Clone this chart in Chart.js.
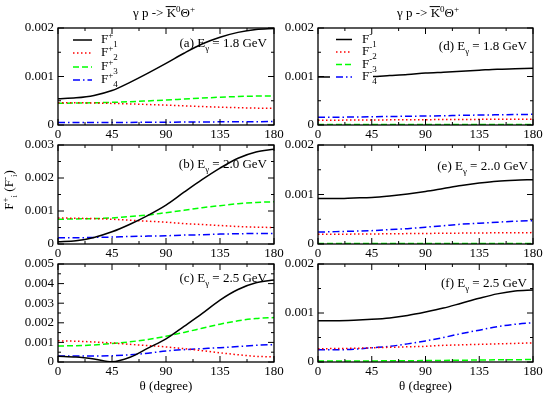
<!DOCTYPE html>
<html>
<head>
<meta charset="utf-8">
<script src="https://cdn.jsdelivr.net/npm/chart.js@4"></script>
<style>
html, body { margin: 0; padding: 0; background: #fff; }
#wrap { position: relative; width: 545px; height: 395px; overflow: hidden; }
#wrap canvas { position: absolute; }
</style>
</head>
<body>
<div id="wrap"></div>
<script>
"use strict";
const FONT = "Liberation Serif";

// Setup
const theta = [0, 15, 30, 45, 60, 75, 90, 105, 120, 135, 150, 165, 180];
const thetaTicks = [0, 45, 90, 135, 180];

// (a) E = 1.8 GeV, F+_i
const a1 = [0.00054, 0.00056, 0.00061, 0.00071, 0.00088, 0.00107, 0.00127, 0.00148, 0.00167, 0.00181, 0.00191, 0.00197, 0.00199];
const a2 = [0.00046, 0.000458, 0.000453, 0.000445, 0.000435, 0.000422, 0.00041, 0.000395, 0.00038, 0.000368, 0.000357, 0.000348, 0.000344];
const a3 = [0.00045, 0.000452, 0.000458, 0.000467, 0.00048, 0.000497, 0.000515, 0.000535, 0.000555, 0.000573, 0.000587, 0.000596, 0.0006];
const a4 = [0.00005, 0.00005, 0.00005, 0.000052, 0.000054, 0.000056, 0.000058, 0.00006, 0.000063, 0.000065, 0.000067, 0.000069, 0.00007];
// (b) E = 2.0 GeV
const b1 = [0.00007, 0.0001, 0.0002, 0.00037, 0.0006, 0.00087, 0.00118, 0.00157, 0.00195, 0.0023, 0.0026, 0.00279, 0.00287];
const b2 = [0.00079, 0.00078, 0.00077, 0.00075, 0.00072, 0.00069, 0.00066, 0.00062, 0.00059, 0.00056, 0.00053, 0.00051, 0.0005];
const b3 = [0.00075, 0.00076, 0.00077, 0.00079, 0.00083, 0.00088, 0.00095, 0.00102, 0.0011, 0.00116, 0.00122, 0.00126, 0.00128];
const b4 = [0.00019, 0.00019, 0.0002, 0.00021, 0.00023, 0.00024, 0.00025, 0.00027, 0.00028, 0.0003, 0.00031, 0.00032, 0.00032];
// (c) E = 2.5 GeV
const c1 = [0.00029, 0.00025, 0.00015, 0.00001, 0.00024, 0.00071, 0.00118, 0.00182, 0.00247, 0.00316, 0.0037, 0.00404, 0.00418];
const c2 = [0.00108, 0.00106, 0.00102, 0.00097, 0.0009, 0.00084, 0.00077, 0.00068, 0.00058, 0.00047, 0.00037, 0.00029, 0.00026];
const c3 = [0.00082, 0.00083, 0.00087, 0.00094, 0.00103, 0.00115, 0.00131, 0.00151, 0.00172, 0.00193, 0.0021, 0.00222, 0.00227];
const c4 = [0.00031, 0.00031, 0.00031, 0.00032, 0.00037, 0.00045, 0.00056, 0.00063, 0.00068, 0.00073, 0.00079, 0.00085, 0.00089];
// (d) E = 1.8 GeV, F-_i
const d1 = [0.00099, 0.00099, 0.000995, 0.001, 0.00102, 0.00104, 0.00107, 0.00109, 0.00111, 0.00113, 0.00115, 0.00116, 0.00117];
const d2 = [0.0001, 0.0001, 0.000102, 0.000104, 0.000106, 0.000108, 0.00011, 0.000112, 0.000114, 0.000116, 0.000118, 0.000119, 0.00012];
const d3 = [0.000008, 0.000008, 0.000008, 0.000008, 0.000008, 0.000009, 0.000009, 0.000009, 0.00001, 0.00001, 0.00001, 0.00001, 0.00001];
const d4 = [0.00016, 0.00016, 0.000165, 0.00017, 0.000175, 0.00018, 0.000185, 0.00019, 0.0002, 0.000205, 0.00021, 0.000215, 0.00022];
// (e) E = 2.0 GeV
const e1 = [0.00092, 0.00092, 0.00093, 0.00094, 0.00097, 0.00101, 0.00106, 0.00112, 0.00118, 0.00123, 0.00127, 0.00129, 0.0013];
const e2 = [0.000195, 0.000197, 0.0002, 0.000203, 0.000206, 0.00021, 0.000213, 0.000217, 0.00022, 0.000223, 0.000226, 0.000228, 0.00023];
const e3 = [0.000008, 0.000008, 0.000008, 0.000008, 0.000009, 0.000009, 0.000009, 0.00001, 0.00001, 0.00001, 0.00001, 0.00001, 0.00001];
const e4 = [0.00024, 0.00025, 0.00026, 0.00027, 0.00029, 0.00031, 0.00034, 0.00037, 0.0004, 0.00042, 0.00044, 0.00046, 0.00047];
// (f) E = 2.5 GeV
const f1 = [0.00084, 0.00084, 0.00085, 0.00087, 0.0009, 0.00095, 0.00102, 0.0011, 0.0012, 0.0013, 0.00139, 0.00145, 0.00147];
const f2 = [0.00027, 0.000275, 0.00028, 0.00029, 0.0003, 0.00031, 0.00032, 0.00034, 0.00035, 0.00036, 0.00037, 0.00038, 0.00039];
const f3 = [0.00002, 0.00002, 0.00002, 0.000022, 0.000024, 0.000026, 0.00003, 0.000033, 0.000037, 0.00004, 0.000044, 0.000047, 0.00005];
const f4 = [0.00025, 0.00025, 0.00026, 0.00029, 0.00032, 0.00037, 0.00043, 0.0005, 0.00058, 0.00065, 0.00072, 0.00077, 0.0008];

const ticks2 = [0, 0.001, 0.002];
const ticks3 = [0, 0.001, 0.002, 0.003];
const ticks5 = [0, 0.001, 0.002, 0.003, 0.004, 0.005];

const colors = ["#000000", "#ff0000", "#00ff00", "#0000ff"];
const dashes = [[], [1.5, 2.5], [6, 3], [7, 3, 1.5, 3]];

// rich text: parts are [text, kind]; kind "" normal, "^" sup, "_" sub, "~" overlined
function drawRich(ctx, parts, x, y, size, align) {
    const small = Math.round(size * 0.68);
    const fontOf = k => (k === "^" || k === "_" ? small : size) + "px '" + FONT + "'";
    let w = 0;
    for (const [t, k] of parts) { ctx.font = fontOf(k); w += ctx.measureText(t).width; }
    let cx = align === "right" ? x - w : align === "center" ? x - w / 2 : x;
    ctx.textAlign = "left";
    ctx.textBaseline = "alphabetic";
    ctx.fillStyle = "#000";
    for (const [t, k] of parts) {
        ctx.font = fontOf(k);
        const tw = ctx.measureText(t).width;
        const dy = k === "^" ? -size * 0.42 : k === "_" ? size * 0.32 : 0;
        ctx.fillText(t, cx, y + dy);
        if (k === "~") {
            ctx.strokeStyle = "#000";
            ctx.lineWidth = 1;
            ctx.setLineDash([]);
            ctx.beginPath();
            ctx.moveTo(cx - 1, y - size * 0.8);
            ctx.lineTo(cx + tw, y - size * 0.8);
            ctx.stroke();
        }
        cx += tw;
    }
}

const title = [["γ p -> ", ""], ["K", "~"], ["0", "^"], ["Θ", ""], ["+", "^"]];
const yLabel = [["F", ""], ["+", "^"], ["i", "_"], [" (F", ""], ["-", "^"], ["i", "_"], [")", ""]];

const framePlugin = {
    id: "frame",
    afterDatasetsDraw(chart, args, p) {
        const { ctx, chartArea: ar, scales: { x, y } } = chart;
        ctx.save();
        // legend box
        if (p.legend) {
            const L = p.legend;
            ctx.fillStyle = "#fff";
            ctx.fillRect(L.box[0] - p.left, L.box[1] - p.top, L.box[2], L.box[3]);
            for (let i = 0; i < 4; i++) {
                const ly = L.rows[i] - p.top;
                ctx.strokeStyle = colors[i];
                ctx.lineWidth = 1.5;
                ctx.setLineDash(dashes[i]);
                ctx.beginPath();
                ctx.moveTo(L.x1 - p.left, ly);
                ctx.lineTo(L.x2 - p.left, ly);
                ctx.stroke();
                ctx.setLineDash([]);
                drawRich(ctx, [["F", ""], [L.sign, "^"], [String(i + 1), "_"]], L.tx - p.left, ly + 3, 13, "left");
            }
        }
        // frame
        ctx.setLineDash([]);
        ctx.strokeStyle = "#000";
        ctx.lineWidth = 1.3;
        ctx.strokeRect(ar.left, ar.top, ar.width, ar.height);
        ctx.lineWidth = 1;
        ctx.beginPath();
        for (let k = 0; k <= 8; k++) {
            const px = x.getPixelForValue(k * 22.5);
            const len = k % 2 === 0 ? 6 : 3;
            ctx.moveTo(px, ar.bottom); ctx.lineTo(px, ar.bottom - len);
            ctx.moveTo(px, ar.top); ctx.lineTo(px, ar.top + len);
        }
        const nY = Math.round(p.yMax / 0.0005);
        for (let k = 0; k <= nY; k++) {
            const py = y.getPixelForValue(k * 0.0005);
            const len = k % 2 === 0 ? 6 : 3;
            ctx.moveTo(ar.left, py); ctx.lineTo(ar.left + len, py);
            ctx.moveTo(ar.right, py); ctx.lineTo(ar.right - len, py);
        }
        ctx.stroke();
        // panel note
        drawRich(ctx, p.note, ar.right - p.noteDx, ar.top + p.noteDy, 13, "right");
        if (p.title) drawRich(ctx, title, p.title[0] - p.left, p.title[1] - p.top, 13, "center");
        if (p.yLabel) {
            ctx.translate(p.yLabel[0] - p.left, p.yLabel[1] - p.top);
            ctx.rotate(-Math.PI / 2);
            drawRich(ctx, yLabel, 0, 0, 13, "center");
        }
        ctx.restore();
    }
};

const LEFT = { left: 0, w: 290, yW: 58, padR: 16 };
const RIGHT = { left: 280, w: 265, yW: 38, padR: 12 };
const ROW1 = { top: 0, h: 141, padT: 28, xH: 16 };
const ROW2 = { top: 130, h: 130, padT: 15, xH: 16 };
const ROW3 = { top: 250, h: 145, padT: 14, xH: 33 };

const panels = [
    { ...LEFT, ...ROW1, series: [a1, a2, a3, a4], yMax: 0.002, yTicks: ticks2,
      note: [["(a) E", ""], ["γ", "_"], [" = 1.8 GeV", ""]], noteDx: 7, noteDy: 19, title: [164, 17],
      legend: { sign: "+", box: [67, 30, 49, 56], x1: 73, x2: 92, tx: 101, rows: [40, 53, 67, 80] } },
    { ...LEFT, ...ROW2, series: [b1, b2, b3, b4], yMax: 0.003, yTicks: ticks3,
      note: [["(b) E", ""], ["γ", "_"], [" = 2.0 GeV", ""]], noteDx: 7, noteDy: 23, yLabel: [13, 190] },
    { ...LEFT, ...ROW3, series: [c1, c2, c3, c4], yMax: 0.005, yTicks: ticks5, xTitle: true,
      note: [["(c) E", ""], ["γ", "_"], [" = 2.5 GeV", ""]], noteDx: 7, noteDy: 17.5 },
    { ...RIGHT, ...ROW1, series: [d1, d2, d3, d4], yMax: 0.002, yTicks: ticks2,
      note: [["(d) E", ""], ["γ", "_"], [" = 1.8 GeV", ""]], noteDx: 6, noteDy: 21.5, title: [428, 17],
      legend: { sign: "-", box: [330, 30, 43, 54], x1: 336, x2: 352, tx: 362, rows: [39.5, 52, 64.5, 77] } },
    { ...RIGHT, ...ROW2, series: [e1, e2, e3, e4], yMax: 0.002, yTicks: ticks2,
      note: [["(e) E", ""], ["γ", "_"], [" = 2..0 GeV", ""]], noteDx: 5, noteDy: 25 },
    { ...RIGHT, ...ROW3, series: [f1, f2, f3, f4], yMax: 0.002, yTicks: ticks2, xTitle: true,
      note: [["(f) E", ""], ["γ", "_"], [" = 2.5 GeV", ""]], noteDx: 6, noteDy: 22.5 },
];

const wrap = document.getElementById("wrap");
const tickFont = { family: FONT, size: 13 };

for (const p of panels) {
    const cv = document.createElement("canvas");
    cv.width = p.w;
    cv.height = p.h;
    cv.style.left = p.left + "px";
    cv.style.top = p.top + "px";
    cv.style.width = p.w + "px";
    cv.style.height = p.h + "px";
    wrap.appendChild(cv);

    const datasets = p.series.map((s, i) => ({
        label: "F" + (i + 1),
        data: theta.map((t, k) => ({ x: t, y: s[k] })),
        borderColor: colors[i],
        borderDash: dashes[i],
        borderWidth: 1.5,
        pointRadius: 0,
        cubicInterpolationMode: "monotone",
        fill: false,
    }));

    new Chart(cv, {
        type: "line",
        data: { datasets },
        options: {
            responsive: false,
            animation: false,
            devicePixelRatio: 1,
            layout: { padding: { left: 0, right: p.padR, top: p.padT, bottom: 0 } },
            plugins: { legend: { display: false }, tooltip: { enabled: false }, frame: p },
            scales: {
                x: {
                    type: "linear", min: 0, max: 180,
                    grid: { display: false, drawTicks: false },
                    border: { display: false },
                    afterBuildTicks: ax => { ax.ticks = thetaTicks.map(v => ({ value: v })); },
                    afterFit: ax => { ax.height = p.xH; ax.paddingLeft = 0; ax.paddingRight = 0; },
                    ticks: { color: "#000", font: tickFont, padding: 2, maxRotation: 0, autoSkip: false },
                    title: { display: !!p.xTitle, text: "θ (degree)", color: "#000", font: tickFont, padding: { top: 0, bottom: 1 } },
                },
                y: {
                    type: "linear", min: 0, max: p.yMax,
                    grid: { display: false, drawTicks: false },
                    border: { display: false },
                    afterBuildTicks: ax => { ax.ticks = p.yTicks.map(v => ({ value: v })); },
                    afterFit: ax => { ax.width = p.yW; ax.paddingTop = 0; ax.paddingBottom = 0; },
                    ticks: { color: "#000", font: tickFont, padding: 4, callback: v => (v === 0 ? "0" : v.toFixed(3)) },
                },
            },
        },
        plugins: [framePlugin],
    });
}
</script>
</body>
</html>
